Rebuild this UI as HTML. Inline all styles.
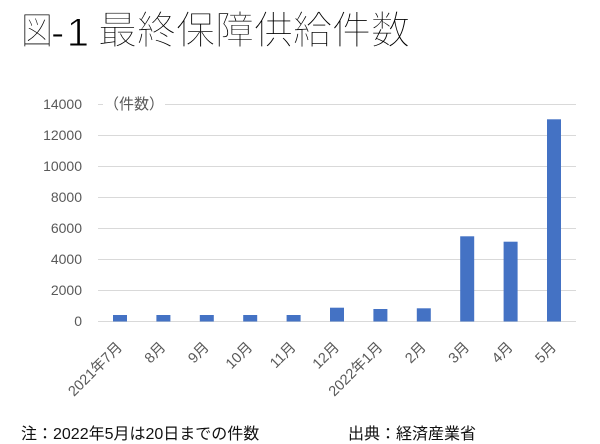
<!DOCTYPE html>
<html><head><meta charset="utf-8"><style>
html,body{margin:0;padding:0;background:#fff;}
svg{display:block;}
</style></head><body>
<svg width="600" height="444" viewBox="0 0 600 444" xmlns="http://www.w3.org/2000/svg">
<rect width="600" height="444" fill="#fff"/>
<g fill="#000" stroke="#fff" stroke-width="0.9" font-weight="300">
<text transform="translate(21,44) scale(0.84,1)" font-family="'Liberation Sans','Noto Sans CJK JP',sans-serif" font-size="38">図</text>
<text x="51" y="46" font-family="'Liberation Sans',sans-serif" font-size="40" textLength="38" lengthAdjust="spacing">-1</text>
<text x="98" y="44" font-family="'Liberation Sans','Noto Sans CJK JP',sans-serif" font-size="39">最終保障供給件数</text>
</g>
<g stroke="#d9d9d9" stroke-width="1">
<line x1="98" x2="576" y1="104.5" y2="104.5"/>
<line x1="98" x2="576" y1="135.5" y2="135.5"/>
<line x1="98" x2="576" y1="166.5" y2="166.5"/>
<line x1="98" x2="576" y1="197.5" y2="197.5"/>
<line x1="98" x2="576" y1="228.5" y2="228.5"/>
<line x1="98" x2="576" y1="259.5" y2="259.5"/>
<line x1="98" x2="576" y1="290.5" y2="290.5"/>
<line x1="98" x2="576" y1="321.5" y2="321.5"/>
</g>
<rect x="103" y="96" width="62" height="18" fill="#fff"/>
<text x="104" y="109" font-family="'Liberation Sans','Noto Sans CJK JP',sans-serif" font-size="15" fill="#595959">（件数）</text>
<g font-family="'Liberation Sans',sans-serif" font-size="14" fill="#595959" text-anchor="end">
<text x="82" y="109">14000</text>
<text x="82" y="140">12000</text>
<text x="82" y="171">10000</text>
<text x="82" y="202">8000</text>
<text x="82" y="233">6000</text>
<text x="82" y="264">4000</text>
<text x="82" y="295">2000</text>
<text x="82" y="326">0</text>
</g>
<g fill="#4472c4">
<rect x="113" y="315" width="14" height="6.5"/>
<rect x="156.4" y="315" width="14" height="6.5"/>
<rect x="199.8" y="315" width="14" height="6.5"/>
<rect x="243.2" y="315" width="14" height="6.5"/>
<rect x="286.6" y="315" width="14" height="6.5"/>
<rect x="330" y="307.7" width="14" height="13.8"/>
<rect x="373.4" y="309" width="14" height="12.5"/>
<rect x="416.8" y="308.3" width="14" height="13.2"/>
<rect x="460.2" y="236.3" width="14" height="85.2"/>
<rect x="503.6" y="241.7" width="14" height="79.8"/>
<rect x="547" y="119.3" width="14" height="202.2"/>
</g>
<g font-family="'Liberation Sans','Noto Sans CJK JP',sans-serif" font-size="14.5" fill="#595959" text-anchor="end">
<text transform="translate(123,348) rotate(-45)">2021年7月</text>
<text transform="translate(166.4,348) rotate(-45)">8月</text>
<text transform="translate(209.8,348) rotate(-45)">9月</text>
<text transform="translate(253.2,348) rotate(-45)">10月</text>
<text transform="translate(296.6,348) rotate(-45)">11月</text>
<text transform="translate(340,348) rotate(-45)">12月</text>
<text transform="translate(383.4,348) rotate(-45)">2022年1月</text>
<text transform="translate(426.8,348) rotate(-45)">2月</text>
<text transform="translate(470.2,348) rotate(-45)">3月</text>
<text transform="translate(513.6,348) rotate(-45)">4月</text>
<text transform="translate(557,348) rotate(-45)">5月</text>
</g>
<text x="21" y="439" font-family="'Liberation Sans','Noto Sans CJK JP',sans-serif" font-size="16" fill="#111">注：2022年5月は20日までの件数</text>
<text x="348" y="439" font-family="'Liberation Sans','Noto Sans CJK JP',sans-serif" font-size="16" fill="#111">出典：経済産業省</text>
</svg>
</body></html>
